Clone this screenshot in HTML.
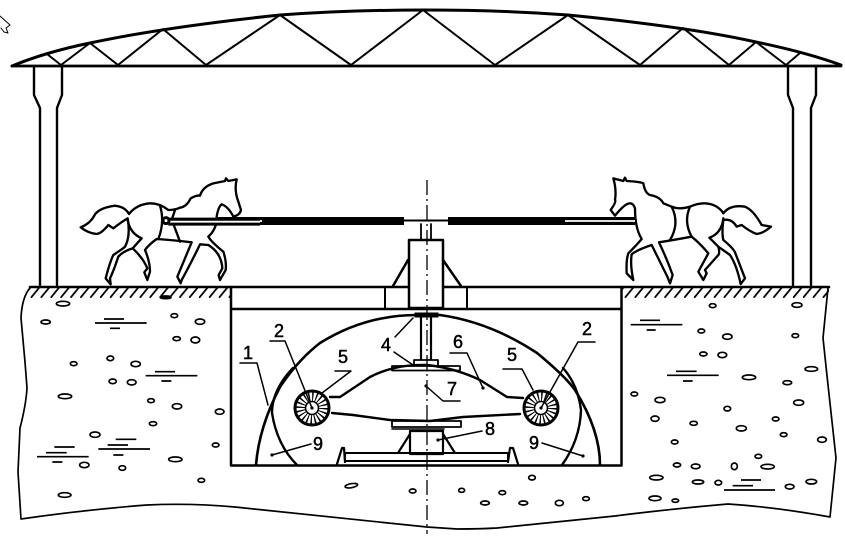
<!DOCTYPE html>
<html><head><meta charset="utf-8"><style>
html,body{margin:0;padding:0;background:#fff;width:845px;height:548px;overflow:hidden}
svg{display:block}
text{font-family:"Liberation Sans",sans-serif;font-size:18px;fill:#000;text-anchor:middle;stroke:#000;stroke-width:.5}
</style></head><body>
<svg width="845" height="548" viewBox="0 0 845 548" xmlns="http://www.w3.org/2000/svg" fill="none" stroke="#000" stroke-linecap="round" stroke-linejoin="round">
<defs><pattern id="h" width="9.9" height="12" patternUnits="userSpaceOnUse" x="1" y="286"><line x1="0" y1="12" x2="9.9" y2="0" stroke="#000" stroke-width="1.8"/></pattern></defs>
<!-- cursor -->
<path d="M0,16 L10,25 L6,28 L8,33 L4,32 L1,28" stroke-width="1"/>
<!-- roof -->
<path d="M12,66 Q46,52 90,43 Q165,27 280,15 Q350,10 425,10 Q500,10 568,15 Q690,27 756,42 Q805,52 841,65" stroke-width="3"/>
<path d="M12,66 H841" stroke-width="2.800"/>
<path d="M47,54 L61,65 L90,43 L118,65 L163,29 L206,65 L280,15 L351,65 L423,10 L495,65 L568,15 L640,65 L683,28 L729,65 L756,42 L786,65 L800,53" stroke-width="2"/>
<!-- columns -->
<path d="M34,66 V95 L40,108 V285 M62,66 V95 L57,108 V285" stroke-width="2.400"/>
<path d="M788,66 V95 L793,108 V285 M816,66 V95 L811,108 V285" stroke-width="2.400"/>
<!-- ground -->
<rect x="30" y="287" width="201" height="11" fill="url(#h)" stroke="none"/>
<rect x="622" y="287" width="207" height="11" fill="url(#h)" stroke="none"/>
<path d="M30,287 H829" stroke-width="2.600"/>
<path d="M30,288 Q22,297 21,318 L25,362 L27,388 Q26,405 20,428 L18,472 L21,519 Q83,510 147,505 Q190,503 235,507 L427,527 L457,529 Q480,529 497,528 L615,516 Q670,509 728,504 Q775,507 830,517 L836,458 L828,385 L823,338 L828,288" stroke-width="1.700"/>
<!-- pit -->
<path d="M231,287 V465.500 H621.500 V287 M231,309 H621.500" stroke-width="2.500"/>
<path d="M385,287 V309 M467,287 V309" stroke-width="2"/>
<!-- column and arm -->
<rect x="409" y="240" width="34" height="68" fill="#fff" stroke-width="2.500"/>
<path d="M408,260 L393,286 M443,260 L461,286" stroke-width="2.500"/>
<path d="M421,224 V240 M431,224 V240" stroke-width="1.800"/>
<path d="M168,221 H404 M448,221 H635" stroke-width="8" stroke-linecap="butt"/>
<path d="M403,220.500 H448" stroke-width="2"/>
<path d="M172,221 H262 M565,221 H636" stroke="#fff" stroke-width="1.800" stroke-linecap="butt"/>
<!-- dome -->
<path d="M256,465 Q259,427 280,387 Q298,360 320,343 Q365,315 417,315 H440 Q490,322 537,353 Q565,376 575,390 Q600,430 600,465" stroke-width="2.600"/>
<path d="M297,465 Q277,445 272,413 Q272,390 293,368" stroke-width="2.400"/>
<path d="M562,465 Q580,440 581,410 Q578,385 563,368" stroke-width="2.400"/>
<!-- shaft and plates -->
<path d="M421,317 V360 M431,317 V360" stroke-width="2.200"/>
<rect x="415" y="313" width="23" height="4" fill="#000" stroke-width="1"/>
<rect x="414" y="360" width="24" height="6" fill="#fff" stroke-width="1.800"/>
<rect x="392" y="366" width="68" height="4.500" fill="#fff" stroke-width="1.800"/>
<rect x="392" y="421" width="69" height="6" fill="#fff" stroke-width="1.800"/>
<path d="M392,429 H444" stroke-width="1.600"/>
<rect x="410" y="431" width="33" height="23" fill="#fff" stroke-width="2.200"/>
<path d="M410,434 L398,453 M443,434 L455,453" stroke-width="2.200"/>
<!-- blade -->
<path d="M330,397 L340,397 L370,377 Q395,364 427,365 Q455,368 480,380 L507,397 L523,398" stroke-width="2.400"/>
<path d="M332,413 L353,415 L390,420 L430,421 L463,417 L520,414" stroke-width="2.400"/>
<!-- base -->
<rect x="345" y="453" width="163" height="8" stroke-width="2"/>
<path d="M337,464 L342,448 H344 L345,462 M508,462 L510,448 H513 L518,464" stroke-width="2.200"/>
<!-- wheels -->
<circle cx="312" cy="408" r="11.500" stroke-width="9" stroke-dasharray="1.300 2.300" stroke-linecap="butt"/>
<circle cx="312" cy="408" r="17" stroke-width="3"/>
<circle cx="312" cy="408" r="6.500" fill="#fff" stroke-width="1.600"/>
<circle cx="541" cy="408" r="11.500" stroke-width="9" stroke-dasharray="1.300 2.300" stroke-linecap="butt"/>
<circle cx="541" cy="408" r="17" stroke-width="3"/>
<circle cx="541" cy="408" r="6.500" fill="#fff" stroke-width="1.600"/>
<!-- axis -->
<path d="M427,180 V534" stroke-width="1.300" stroke-dasharray="15 4 2 4" stroke-linecap="butt"/>
<!-- leaders -->
<g stroke-width="1.500">
<path d="M240,363 H257 L268,405"/>
<path d="M270,341 H285 L312,408"/>
<path d="M335,371 H351 L322,393"/>
<path d="M395,337 L413,318 M394,352 L413,365"/>
<path d="M311,444 L272,455"/>
<path d="M595,342 H578 L541,408"/>
<path d="M450,353 H467 L483,388"/>
<path d="M503,369 H522 L533,390"/>
<path d="M460,401 H443 L426,386"/>
<path d="M482,431 L438,440"/>
<path d="M542,443 L583,456"/>
</g>
<g fill="#000" stroke="none">
<circle cx="272" cy="455" r="1.600"/><circle cx="583" cy="456" r="1.600"/><circle cx="483" cy="388" r="1.600"/><circle cx="426" cy="386" r="1.600"/><circle cx="438" cy="440" r="1.600"/><circle cx="312" cy="408" r="1.600"/><circle cx="541" cy="408" r="1.600"/>
</g>
<text x="248" y="359">1</text>
<text x="279" y="337">2</text>
<text x="343" y="363">5</text>
<text x="386" y="351">4</text>
<text x="318" y="450">9</text>
<text x="587" y="335">2</text>
<text x="458" y="348">6</text>
<text x="512" y="361">5</text>
<text x="452" y="395">7</text>
<text x="490" y="435">8</text>
<text x="534" y="449">9</text>
<!-- left horse -->
<g transform="translate(60,165) scale(.33333)" stroke-width="7">
<path fill="#fff" d="M62,187 Q92,175 105,148 Q120,128 165,122 Q195,125 207,147 Q230,118 270,115 Q300,115 325,135 Q345,135 360,128 Q380,125 392,100 Q410,90 420,92 Q428,65 460,55 L495,48 L498,40 L505,48 L530,43 Q522,75 535,110 L543,135 Q540,150 520,155 Q505,125 485,118 Q475,125 470,155 Q472,190 445,215 Q455,232 490,260 Q500,290 497,315 L480,345 L476,330 L487,310 Q485,265 445,240 L420,238 Q390,300 365,345 L362,355 L352,335 Q375,280 395,232 Q340,225 290,222 Q265,240 255,255 Q270,290 270,320 L262,345 L253,322 L262,310 Q250,280 218,250 Q190,258 175,275 Q160,320 150,340 L152,358 L137,340 Q150,290 160,270 Q190,250 195,245 Q212,215 203,160 Q185,170 160,190 L145,180 Q125,205 110,207 Q85,205 62,187 Z"/>
<path d="M203,165 Q210,205 245,220 L218,250 M300,122 Q315,170 295,222 M345,135 L335,165 L345,190 L360,230"/>
<path d="M325,170 H600" stroke-width="24" stroke-linecap="butt"/>
<path d="M330,170 H600" stroke="#fff" stroke-width="5.500" stroke-linecap="butt"/>
<circle cx="318" cy="167" r="9" stroke-width="9"/>
</g>
<!-- right horse -->
<g transform="translate(590,165) scale(.33333)" stroke-width="7">
<path fill="#fff" d="M207,232 Q230,280 248,330 L240,355 L232,335 Q205,280 185,240 Q140,255 125,268 Q120,300 130,345 L110,325 Q108,285 115,265 Q140,240 155,222 Q135,190 135,130 Q130,115 120,115 Q105,115 75,152 L62,135 Q80,110 75,105 Q80,75 70,40 L100,48 L105,38 L110,48 Q150,50 160,55 Q165,85 180,90 Q210,95 220,115 L245,125 Q270,135 300,125 Q345,105 380,125 Q395,135 400,145 Q420,118 465,125 Q490,135 515,180 L543,185 Q520,205 500,207 Q480,200 455,180 L440,185 Q425,160 400,165 Q395,205 400,225 Q430,250 435,262 L465,340 L452,357 Q440,300 420,270 L385,245 Q390,265 385,270 L345,315 L350,325 L340,345 L325,320 L355,265 Q330,235 305,215 Q250,225 207,232 Z"/>
<path d="M385,245 L358,218 Q395,205 400,160 M245,125 Q270,175 240,225 M300,125 Q280,170 305,215"/>
<path d="M0,168 H135" stroke-width="24" stroke-linecap="butt"/>
<path d="M0,168 H135" stroke="#fff" stroke-width="5.500" stroke-linecap="butt"/>
</g>
<!-- left soil -->
<g transform="translate(0,285) scale(.33333)" stroke-width="5">
<ellipse cx="189" cy="56" rx="20" ry="7"/><ellipse cx="137" cy="111" rx="14" ry="6"/><ellipse cx="523" cy="92" rx="10" ry="6"/><ellipse cx="600" cy="110" rx="14" ry="8"/><ellipse cx="530" cy="161" rx="11" ry="6"/><ellipse cx="586" cy="165" rx="13" ry="9"/><ellipse cx="331" cy="220" rx="10" ry="7"/><ellipse cx="221" cy="236" rx="10" ry="6"/><ellipse cx="407" cy="237" rx="14" ry="8"/><ellipse cx="338" cy="289" rx="11" ry="7"/><ellipse cx="395" cy="292" rx="13" ry="8"/><ellipse cx="195" cy="334" rx="20" ry="7"/><ellipse cx="453" cy="347" rx="10" ry="6"/><ellipse cx="531" cy="364" rx="14" ry="8"/><ellipse cx="659" cy="380" rx="13" ry="8"/><ellipse cx="459" cy="416" rx="11" ry="6"/><ellipse cx="285" cy="449" rx="15" ry="8"/><ellipse cx="647" cy="480" rx="10" ry="6"/><ellipse cx="526" cy="523" rx="20" ry="7"/><ellipse cx="253" cy="540" rx="14" ry="8"/><ellipse cx="367" cy="549" rx="10" ry="7"/><ellipse cx="604" cy="586" rx="10" ry="6"/><ellipse cx="194" cy="630" rx="19" ry="7"/>
<ellipse cx="497" cy="37" rx="16" ry="4" fill="#000"/>
<path d="M312,102 H372 M285,114 H440 M330,130 H360 M465,260 H525 M437,272 H592 M484,288 H514 M347,463 H409 M323,480 H384 M295,492 H450 M340,510 H370 M163,486 H224 M138,503 H200 M111,515 H266 M157,531 H187" stroke-linecap="butt"/>
</g>
<!-- right soil -->
<g transform="translate(615,285) scale(.33333)" stroke-width="5">
<ellipse cx="293" cy="62" rx="10" ry="6"/><ellipse cx="546" cy="60" rx="15" ry="7"/><ellipse cx="259" cy="138" rx="10" ry="6"/><ellipse cx="337" cy="155" rx="14" ry="8"/><ellipse cx="541" cy="152" rx="10" ry="6"/><ellipse cx="265" cy="207" rx="11" ry="6"/><ellipse cx="322" cy="210" rx="13" ry="8"/><ellipse cx="589" cy="252" rx="19" ry="7"/><ellipse cx="402" cy="277" rx="20" ry="7"/><ellipse cx="517" cy="293" rx="13" ry="6"/><ellipse cx="58" cy="327" rx="10" ry="6"/><ellipse cx="135" cy="345" rx="15" ry="8"/><ellipse cx="551" cy="353" rx="15" ry="8"/><ellipse cx="337" cy="371" rx="10" ry="7"/><ellipse cx="120" cy="401" rx="12" ry="8"/><ellipse cx="482" cy="402" rx="10" ry="6"/><ellipse cx="236" cy="415" rx="11" ry="6"/><ellipse cx="379" cy="430" rx="15" ry="8"/><ellipse cx="506" cy="449" rx="10" ry="6"/><ellipse cx="621" cy="464" rx="13" ry="8"/><ellipse cx="179" cy="471" rx="10" ry="6"/><ellipse cx="430" cy="514" rx="10" ry="6"/><ellipse cx="186" cy="540" rx="11" ry="6"/><ellipse cx="242" cy="544" rx="13" ry="7"/><ellipse cx="358" cy="544" rx="9" ry="10"/><ellipse cx="458" cy="545" rx="20" ry="7"/><ellipse cx="124" cy="578" rx="20" ry="7"/><ellipse cx="249" cy="591" rx="17" ry="6"/><ellipse cx="310" cy="593" rx="10" ry="7"/><ellipse cx="589" cy="590" rx="16" ry="7"/><ellipse cx="524" cy="605" rx="13" ry="7"/><ellipse cx="120" cy="640" rx="18" ry="7"/><ellipse cx="181" cy="647" rx="10" ry="5"/>
<path d="M75,106 H135 M47,119 H202 M95,135 H122 M183,259 H245 M156,271 H311 M204,288 H233 M378,585 H438 M353,602 H414 M327,615 H480" stroke-linecap="butt"/>
</g>
<!-- bottom pebbles -->
<g transform="translate(230,455) scale(.33333)" stroke-width="5">
<ellipse cx="364" cy="92" rx="19" ry="6" transform="rotate(-10 364 92)"/><ellipse cx="548" cy="108" rx="10" ry="6"/><ellipse cx="695" cy="106" rx="9" ry="6"/><ellipse cx="817" cy="113" rx="10" ry="6"/><ellipse cx="906" cy="68" rx="10" ry="7"/><ellipse cx="765" cy="144" rx="13" ry="6"/><ellipse cx="880" cy="144" rx="13" ry="6"/><ellipse cx="988" cy="144" rx="12" ry="8"/><ellipse cx="1068" cy="131" rx="10" ry="6"/>
</g>
</svg>
</body></html>
